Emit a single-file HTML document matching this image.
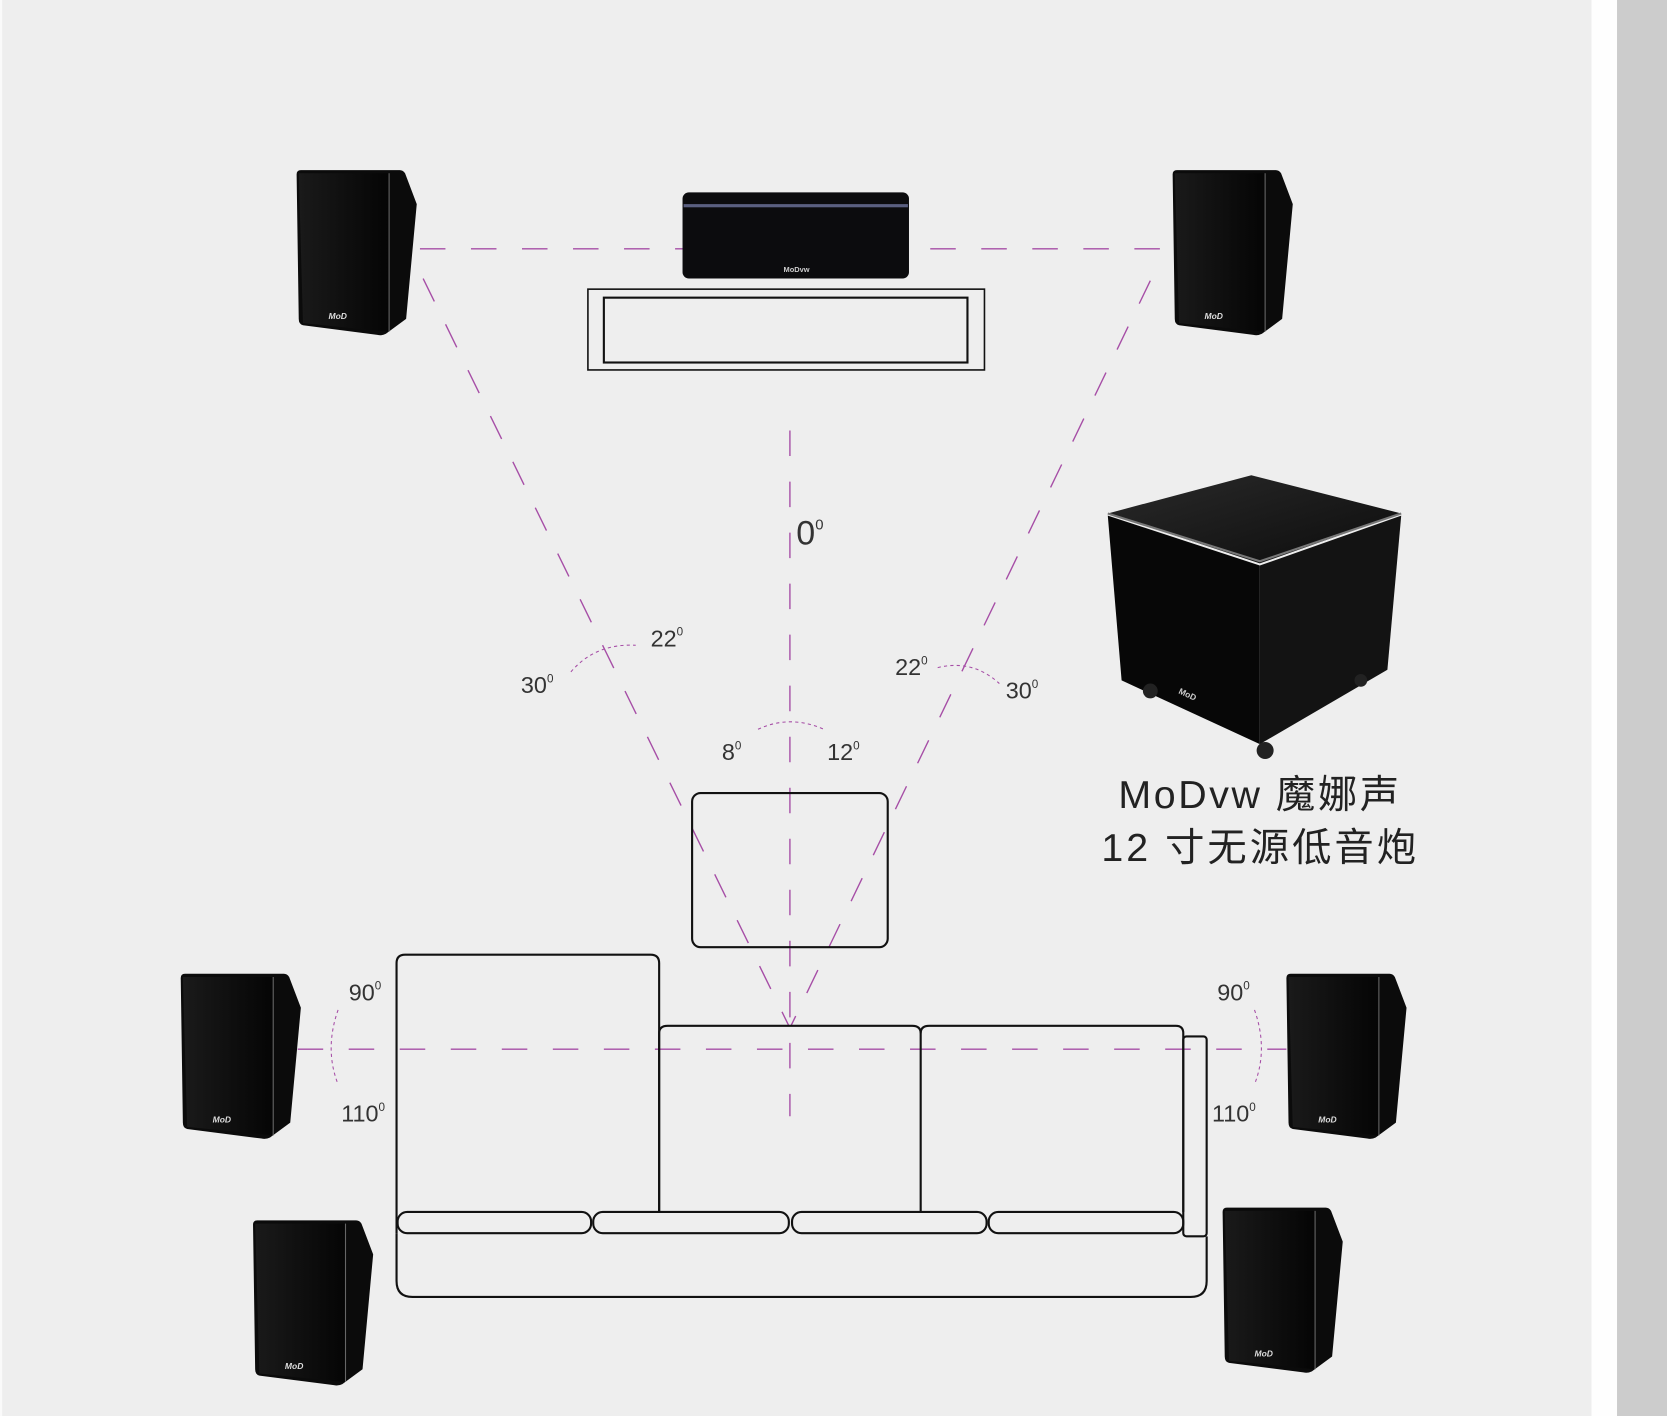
<!DOCTYPE html>
<html><head><meta charset="utf-8"><style>
html,body{margin:0;padding:0;width:1667px;height:1416px;overflow:hidden;background:#eee}
svg{display:block}
text{font-family:"Liberation Sans","Noto Sans CJK SC",sans-serif;fill:#333}
</style></head><body>
<svg width="1667" height="1416" viewBox="0 0 1568 1332" preserveAspectRatio="none" xmlns="http://www.w3.org/2000/svg">
<defs>
<linearGradient id="g" x1="0" y1="0" x2="1" y2="0"><stop offset="0" stop-color="#1a1a1a"/><stop offset="1" stop-color="#050505"/></linearGradient>
<linearGradient id="top" x1="0" y1="0" x2="1" y2="1"><stop offset="0" stop-color="#2a2a2a"/><stop offset="1" stop-color="#0c0c0c"/></linearGradient>
<g id="spk">
<path d="M0,4 Q0,0 4,0 L97,0 Q100,0 102,3 L113,32 L103,140 L84,154 Q80,156 76,155 L6,146 Q2,145 2,140 Z" fill="#0b0b0b"/>
<path d="M2,3 L86,3 L86,152 L6,144 Z" fill="url(#g)"/>
<line x1="87" y1="3" x2="87" y2="152" stroke="#666" stroke-width="1"/>
<text x="30" y="140" font-size="8" style="fill:#ddd" font-style="italic" font-weight="bold">MoD</text>
</g>
</defs>
<rect width="1568" height="1332" fill="#eeeeee"/>
<rect x="1497" y="0" width="24" height="1332" fill="#fefefe"/>
<rect x="1521" y="0" width="47" height="1332" fill="#cccccc"/>
<rect x="0" y="0" width="2" height="1332" fill="#fafafa"/>

<g stroke="#a64ea6" stroke-width="1.3" stroke-dasharray="24,24" fill="none">
<line x1="395" y1="234" x2="1095" y2="234"/>
<line x1="398" y1="262" x2="742" y2="965"/>
<line x1="1082" y1="264" x2="744" y2="965"/>
<line x1="743" y1="405" x2="743" y2="1050"/>
<line x1="280" y1="987" x2="1210" y2="987"/>
</g>
<g stroke="#a64ea6" stroke-width="1" stroke-dasharray="3,3" fill="none">
<path d="M537,632 Q560,605 598,607"/>
<path d="M882,628 Q915,620 940,643"/>
<path d="M713,686 Q743,672 775,686"/>
<path d="M318,950 Q305,987 318,1020"/>
<path d="M1180,950 Q1193,987 1180,1020"/>
</g>

<rect x="553" y="272" width="373" height="76" fill="none" stroke="#111" stroke-width="1.5"/>
<rect x="568" y="280" width="342" height="61" fill="none" stroke="#111" stroke-width="2"/>
<rect x="642" y="181" width="213" height="81" rx="6" fill="#0c0c0e"/>
<rect x="643" y="192" width="211" height="3" fill="#5a5f80"/>
<text x="737" y="256" font-size="7" style="fill:#ccc" font-weight="bold">MoDvw</text>

<use href="#spk" x="279" y="160"/>
<use href="#spk" x="1103" y="160"/>
<use href="#spk" x="170" y="916"/>
<use href="#spk" x="1210" y="916"/>
<use href="#spk" x="238" y="1148"/>
<use href="#spk" x="1150" y="1136"/>

<path d="M1042,483 L1177,447 L1318,483 L1185,530 Z" fill="url(#top)"/>
<path d="M1042,485 L1185,532 L1185,700 L1055,640 Z" fill="#070707"/>
<path d="M1185,532 L1318,485 L1305,630 L1185,700 Z" fill="#131313"/>
<path d="M1042,483 L1185,528 L1318,483" fill="none" stroke="#777" stroke-width="2"/>
<circle cx="1082" cy="650" r="7" fill="#222"/><circle cx="1190" cy="706" r="8" fill="#222"/><circle cx="1280" cy="640" r="6" fill="#222"/>
<text x="1108" y="652" font-size="8" style="fill:#ccc" font-weight="bold" transform="rotate(25 1108 652)">MoD</text>

<rect x="651" y="746" width="184" height="145" rx="8" fill="none" stroke="#111" stroke-width="2"/>

<g fill="none" stroke="#111" stroke-width="2">
<path d="M373,1160 L373,906 Q373,898 381,898 L612,898 Q620,898 620,906 L620,1140"/>
<path d="M620,1140 L620,972 Q620,965 628,965 L858,965 Q866,965 866,972 L866,1140"/>
<path d="M866,972 Q866,965 874,965 L1106,965 Q1113,965 1113,972 L1113,1140"/>
<rect x="1113" y="975" width="22" height="188" rx="3"/>
<rect x="374" y="1140" width="182" height="20" rx="9"/>
<rect x="558" y="1140" width="184" height="20" rx="9"/>
<rect x="745" y="1140" width="183" height="20" rx="9"/>
<rect x="930" y="1140" width="183" height="20" rx="9"/>
<path d="M373,1160 L373,1205 Q373,1220 388,1220 L1120,1220 Q1135,1220 1135,1205 L1135,1163"/>
</g>

<g font-size="22">
<text x="749" y="512" font-size="32">0<tspan font-size="14" dy="-14">0</tspan></text>
<text x="612" y="608">22<tspan font-size="11" dy="-10">0</tspan></text>
<text x="490" y="652">30<tspan font-size="11" dy="-10">0</tspan></text>
<text x="842" y="635">22<tspan font-size="11" dy="-10">0</tspan></text>
<text x="946" y="657">30<tspan font-size="11" dy="-10">0</tspan></text>
<text x="679" y="715">8<tspan font-size="11" dy="-10">0</tspan></text>
<text x="778" y="715">12<tspan font-size="11" dy="-10">0</tspan></text>
<text x="328" y="941">90<tspan font-size="11" dy="-10">0</tspan></text>
<text x="321" y="1055">110<tspan font-size="11" dy="-10">0</tspan></text>
<text x="1145" y="941">90<tspan font-size="11" dy="-10">0</tspan></text>
<text x="1140" y="1055">110<tspan font-size="11" dy="-10">0</tspan></text>
</g>
<text x="1052" y="760" font-size="37" textLength="264" style="fill:#222">MoDvw 魔娜声</text>
<text x="1036" y="810" font-size="37" textLength="296" style="fill:#222">12 寸无源低音炮</text>
</svg>
</body></html>
